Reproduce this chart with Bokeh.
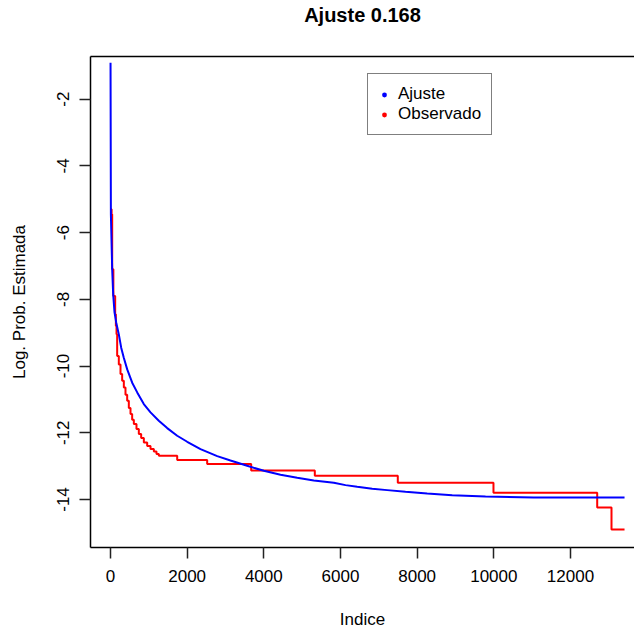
from bokeh.plotting import figure
from bokeh.models import (Range1d, FixedTicker, LinearAxis, Legend,
                          LegendItem, PrintfTickFormatter)
from bokeh.embed import file_html
from bokeh.resources import INLINE

# ---- data ----
ajuste_idx = [1, 10, 44, 70, 104, 150, 217, 279, 347, 436, 566, 697, 869,
              1044, 1260, 1479, 1740, 2001, 2348, 2784, 3130, 3565, 4000,
              4435, 4870, 5304, 5826, 6131, 6436, 6827, 7219, 7696, 8262,
              8915, 9783, 11043, 13410]
ajuste_val = [-0.91, -5.45, -7.10, -7.85, -8.38, -8.70, -9.05, -9.45, -9.75,
              -10.10, -10.50, -10.79, -11.14, -11.39, -11.64, -11.86, -12.09,
              -12.27, -12.49, -12.70, -12.83, -12.99, -13.14, -13.26, -13.35,
              -13.43, -13.50, -13.57, -13.62, -13.68, -13.72, -13.77, -13.82,
              -13.87, -13.91, -13.94, -13.94]

obs_idx = [1, 29, 44, 75, 122, 140, 157, 174, 217, 261, 304, 348, 391, 435,
           478, 522, 565, 609, 678, 739, 800, 870, 957, 1044, 1131, 1200,
           1261, 1740, 2522, 3670, 5330, 7495, 9991, 12697, 13070, 13410]
obs_val = [-5.30, -5.45, -7.10, -7.90, -8.45, -8.80, -9.05, -9.70, -9.95,
           -10.24, -10.44, -10.64, -10.86, -11.04, -11.26, -11.44, -11.61,
           -11.74, -11.89, -12.04, -12.16, -12.29, -12.40, -12.49, -12.56,
           -12.64, -12.69, -12.82, -12.94, -13.13, -13.29, -13.50, -13.80,
           -14.24, -14.90, -14.90]

x_ticks = [0, 2000, 4000, 6000, 8000, 10000, 12000]
y_ticks = [-2, -4, -6, -8, -10, -12, -14]

title_text = "Ajuste 0.168"
x_label = "Indice"
y_label = "Log. Prob. Estimada"
legend_labels = ["Ajuste", "Observado"]

FONT = "Liberation Sans"
FS = "17px"

p = figure(width=634, height=633, output_backend="svg", toolbar_location=None,
           x_range=Range1d(-521.7, 13670), y_range=Range1d(-15.44, -0.72),
           min_border_left=90, min_border_right=0, min_border_top=55,
           min_border_bottom=86, x_axis_label=x_label, y_axis_label=y_label)
p.xgrid.visible = False
p.ygrid.visible = False
p.outline_line_color = None
p.background_fill_color = "white"
p.border_fill_color = "white"

for ax in (p.xaxis[0], p.yaxis[0]):
    ax.axis_line_color = "black"
    ax.axis_line_width = 1.5
    ax.major_tick_line_color = "#222222"
    ax.major_tick_line_width = 1.5
    ax.major_tick_in = 0
    ax.major_tick_out = 11
    ax.minor_tick_line_color = None
    ax.major_label_text_font = FONT
    ax.major_label_text_font_size = FS
    ax.major_label_text_color = "black"
    ax.axis_label_text_font = FONT
    ax.axis_label_text_font_size = FS
    ax.axis_label_text_font_style = "normal"
    ax.axis_label_text_color = "black"

p.xaxis[0].ticker = FixedTicker(ticks=x_ticks)
p.xaxis[0].formatter = PrintfTickFormatter(format="%d")
p.xaxis[0].major_label_standoff = 11
p.xaxis[0].axis_label_standoff = 25

p.yaxis[0].ticker = FixedTicker(ticks=y_ticks)
p.yaxis[0].formatter = PrintfTickFormatter(format="%d")
p.yaxis[0].major_label_orientation = "vertical"
p.yaxis[0].major_label_standoff = 10
p.yaxis[0].axis_label_standoff = 26

# top border of the box, carrying the chart title as its label
top_axis = LinearAxis(ticker=FixedTicker(ticks=[]), axis_line_color="black",
                      axis_line_width=1.5, major_tick_line_color=None,
                      minor_tick_line_color=None, major_tick_out=0,
                      major_tick_in=0, major_label_standoff=0,
                      major_label_text_font_size="0px",
                      axis_label=title_text, axis_label_text_font=FONT,
                      axis_label_text_font_size="20px",
                      axis_label_text_font_style="bold",
                      axis_label_text_color="black",
                      axis_label_standoff=31)
p.add_layout(top_axis, "above")

# series
p.step(obs_idx, obs_val, mode="after", line_color="#FF0000", line_width=2)
p.line(ajuste_idx, ajuste_val, line_color="#0000FF", line_width=2)

# legend-only dot markers (size 0 in the plot; legend draws its own dot)
d1 = p.scatter(ajuste_idx, ajuste_val, size=0, fill_color="#0000FF",
               line_color=None)
d2 = p.scatter(obs_idx, obs_val, size=0, fill_color="#FF0000",
               line_color=None)
legend = Legend(items=[LegendItem(label=legend_labels[0], renderers=[d1]),
                       LegendItem(label=legend_labels[1], renderers=[d2])],
                location=(277, 412), padding=10, spacing=0,
                glyph_width=12, glyph_height=19, label_height=19,
                label_standoff=8, label_text_font=FONT,
                label_text_font_size=FS, label_text_color="black",
                border_line_color="black", border_line_width=1.5,
                background_fill_color="white", background_fill_alpha=1.0,
                margin=0)
p.add_layout(legend)

open("out.html", "w").write(file_html(p, INLINE))
